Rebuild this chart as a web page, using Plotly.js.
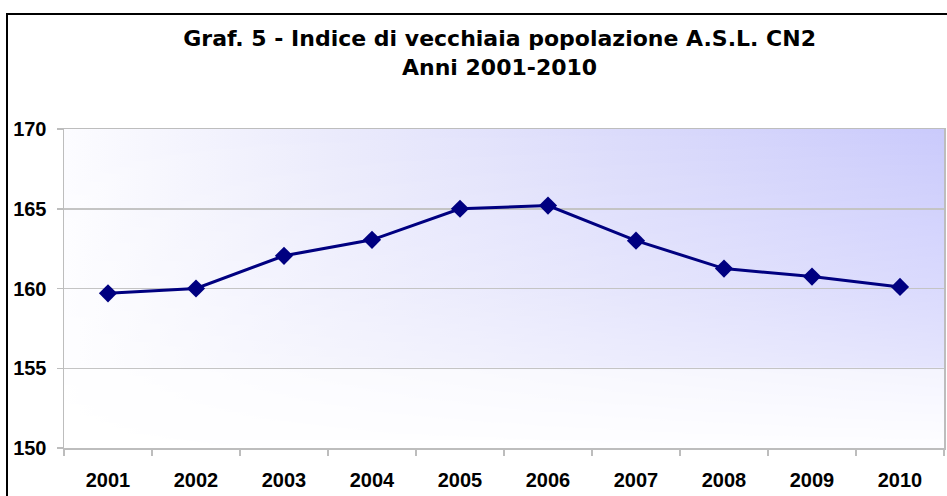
<!DOCTYPE html>
<html>
<head>
<meta charset="utf-8">
<script src="https://cdn.plot.ly/plotly-3.0.1.min.js"></script>
<style>html,body{margin:0;padding:0;background:#fff;}#chart{width:947px;height:496px;}</style>
</head>
<body>
<div id="chart"></div>
<script>
const years = ["2001","2002","2003","2004","2005","2006","2007","2008","2009","2010"];
const indice = [159.7, 160.0, 162.05, 163.05, 165.0, 165.2, 163.0, 161.25, 160.75, 160.1];
const yTicks = [150, 155, 160, 165, 170];
const titleText = "Graf. 5 - Indice di vecchiaia popolazione A.S.L. CN2<br>Anni 2001-2010";

const svgBg = '<svg xmlns="http://www.w3.org/2000/svg" width="880" height="319" preserveAspectRatio="none">' +
  '<defs>' +
  '<linearGradient id="h" x1="0" y1="0" x2="1" y2="0">' +
  '<stop offset="0" stop-color="#fcfcff"/>' +
  '<stop offset="0.3" stop-color="#ebebfc"/>' +
  '<stop offset="0.65" stop-color="#dadafb"/>' +
  '<stop offset="1" stop-color="#cacafc"/>' +
  '</linearGradient>' +
  '<linearGradient id="v" x1="0" y1="0" x2="0" y2="1">' +
  '<stop offset="0" stop-color="#fff" stop-opacity="1"/>' +
  '<stop offset="0.5" stop-color="#fff" stop-opacity="0.7"/>' +
  '<stop offset="0.745" stop-color="#fff" stop-opacity="0.5"/>' +
  '<stop offset="0.755" stop-color="#fff" stop-opacity="0.2"/>' +
  '<stop offset="1" stop-color="#fff" stop-opacity="0.03"/>' +
  '</linearGradient>' +
  '<mask id="m" maskContentUnits="objectBoundingBox"><rect width="1" height="1" fill="url(#v)"/></mask>' +
  '</defs>' +
  '<rect width="880" height="319" fill="#ffffff"/>' +
  '<rect width="880" height="319" fill="url(#h)" mask="url(#m)"/></svg>';
const bgUri = "data:image/svg+xml;base64," + btoa(svgBg);

const L = 64, R = 3, T = 129, B = 48, W = 947, H = 496;
const pw = W - L - R, ph = H - T - B;

const trace = {
  x: years, y: indice, type: "scatter", mode: "lines+markers",
  line: {color: "#000080", width: 3},
  marker: {symbol: "diamond", size: 14, color: "#000080"},
  hoverinfo: "x+y"
};

const layout = {
  width: W, height: H,
  margin: {l: L, r: R, t: T, b: B, pad: 0},
  paper_bgcolor: "#ffffff",
  plot_bgcolor: "rgba(0,0,0,0)",
  showlegend: false,
  title: {
    text: titleText,
    font: {family: "DejaVu Sans", size: 22, color: "#000", weight: "bold"},
    xref: "paper", x: 0.495, xanchor: "center",
    yref: "container", y: 1 - 46/H, yanchor: "top"
  },
  xaxis: {
    type: "category", range: [-0.5, 9.5],
    showgrid: false, showline: true, linecolor: "#bdbdbd", linewidth: 1.5, mirror: true,
    ticks: "outside", ticklen: 6, tickcolor: "#bdbdbd", tickwidth: 1.5, tickson: "boundaries",
    ticklabelstandoff: 13,
    tickfont: {family: "Liberation Sans, Arial", size: 20, color: "#000", weight: "bold"},
    fixedrange: true
  },
  yaxis: {
    range: [150, 170], tickvals: yTicks, ticktext: yTicks.map(String),
    showgrid: true, gridcolor: "#c4c4c4", gridwidth: 1.5,
    showline: true, linecolor: "#bdbdbd", linewidth: 1.5, mirror: true,
    ticks: "outside", ticklen: 6, tickcolor: "#bdbdbd", tickwidth: 1.5,
    ticklabelstandoff: 6,
    zeroline: false,
    tickfont: {family: "Liberation Sans, Arial", size: 20, color: "#000", weight: "bold"},
    fixedrange: true
  },
  images: [{
    source: bgUri, xref: "paper", yref: "paper", x: 0, y: 1, sizex: 1, sizey: 1,
    sizing: "stretch", xanchor: "left", yanchor: "top", layer: "below"
  }],
  shapes: [{
    type: "rect", xref: "paper", yref: "paper",
    x0: (7 - L) / pw, x1: 1.2, y0: -0.4, y1: (H - B - 14) / ph,
    line: {color: "#000", width: 2}, fillcolor: "rgba(0,0,0,0)", layer: "above"
  }]
};

Plotly.newPlot("chart", [trace], layout, {displayModeBar: false, staticPlot: true});
</script>
</body>
</html>
